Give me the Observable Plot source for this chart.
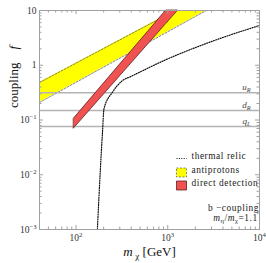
<!DOCTYPE html>
<html><head><meta charset="utf-8">
<script src="https://cdn.jsdelivr.net/npm/d3@7"></script>
<script src="https://cdn.jsdelivr.net/npm/@observablehq/plot@0.6"></script>
<style>body{margin:0;background:#fff}</style>
</head><body><div id="chart"></div>
<script>
// ---- data ----
const yellowM  = [40, 1205, 2630];          // antiprotons band, m_chi [GeV]
const yellowLo = [0.209, 4.86, 10];
const yellowHi = [0.484, 10, 10];
const redM  = [95, 960, 1300];               // direct detection band
const redLo = [0.070, 5.65, 10];
const redHi = [0.106, 10, 10];
const relicM = [171, 184, 194, 202, 250, 322, 397, 912, 3220, 10000]; // thermal relic
const relicF = [0.001, 0.012, 0.057, 0.162, 0.322, 0.526, 0.624, 1.22, 2.83, 5.32];
const quarkF = [0.314, 0.149, 0.076];
const quarkLabels = ["u_{R}", "d_{R}", "q_{L}"];
const xMajor = [100, 1000, 10000];
const xTickLabels = ["10^{2}", "10^{3}", "10^{4}"];
const xMinor = [40,50,60,70,80,90,200,300,400,500,600,700,800,900,2000,3000,4000,5000,6000,7000,8000,9000];
const yMajor = [0.001, 0.01, 0.1, 1, 10];
const yTickLabels = ["10^{−3}", "10^{−2}", "10^{−1}", "1", "10"];
const yMinor = [0.002,0.003,0.004,0.005,0.006,0.007,0.008,0.009,0.02,0.03,0.04,0.05,0.06,0.07,0.08,0.09,
                0.2,0.3,0.4,0.5,0.6,0.7,0.8,0.9,2,3,4,5,6,7,8,9];
const legendLabels = ["thermal relic", "antiprotons", "direct detection"];
const noteLines = ["b −coupling", "%{m}_{η}/%{m}_{χ}=1.1"];
const xTitle = "%{m}\u2009_{χ} [GeV]";
const yTitle = "coupling\u2003%{f}";

// ---- layout ----
const W = 266, H = 263, mL = 39, mR = 7, mT = 10, mB = 34;
const innerW = W - mL - mR, innerH = H - mT - mB;
const YELLOW = "#ffff00", RED = "#f05252", GRID = "#b4b4b4", FRAME = "#a0a0a0";
const FONT = "'Liberation Serif', 'Times New Roman', serif";

const yellow = yellowM.map((m, i) => ({m, lo: yellowLo[i], hi: yellowHi[i]}));
const red = redM.map((m, i) => ({m, lo: redLo[i], hi: redHi[i]}));
const relic = relicM.map((m, i) => ({m, f: relicF[i]}));

const hline = {draw(c) { c.moveTo(-5, 0); c.lineTo(5, 0); }};
const box = {draw(c) { c.rect(-5, -4.5, 10, 9); }};

const note = (s, dx, dy, o = {}) => Plot.text([s], {text: d => d, frameAnchor: "bottom-right", dx, dy,
  textAnchor: "start", fontSize: 9.4, fill: "#222", ...o});

const chart = Plot.plot({
  width: W, height: H, marginLeft: mL, marginRight: mR, marginTop: mT, marginBottom: mB,
  x: {type: "log", domain: [40, 1e4], axis: null},
  y: {type: "log", domain: [1e-3, 10], axis: null},
  style: {fontFamily: FONT, background: "#fff", color: "#222"},
  marks: [
    Plot.areaY(yellow, {x: "m", y1: "lo", y2: "hi", fill: YELLOW}),
    Plot.line(yellow, {x: "m", y: "lo", stroke: "#666", strokeWidth: 0.8, strokeDasharray: "2,1.5"}),
    Plot.line(yellow, {x: "m", y: "hi", stroke: "#666", strokeWidth: 0.8, strokeDasharray: "2,1.5"}),
    Plot.ruleY(quarkF, {stroke: GRID, strokeWidth: 1.4}),
    Plot.areaY(red, {x: "m", y1: "lo", y2: "hi", fill: RED, stroke: "#4a1010", strokeWidth: 0.7}),
    Plot.line(relic, {x: "m", y: "f", curve: "monotone-x", stroke: "#111", strokeWidth: 1.2, strokeDasharray: "1,1.4"}),
    Plot.text(quarkF, {y: d => d, frameAnchor: "right", dx: -9, dy: -5.5, textAnchor: "end",
      text: (d, i) => quarkLabels[i], fontStyle: "italic", fontSize: 9, fill: "#444"}),
    // frame and ticks
    Plot.frame({stroke: FRAME}),
    Plot.tickX(xMajor, {x: d => d, insetTop: innerH - 4, stroke: FRAME}),
    Plot.tickX(xMajor, {x: d => d, insetBottom: innerH - 4, stroke: FRAME}),
    Plot.tickX(xMinor, {x: d => d, insetTop: innerH - 2.5, stroke: FRAME}),
    Plot.tickX(xMinor, {x: d => d, insetBottom: innerH - 2.5, stroke: FRAME}),
    Plot.tickY(yMajor, {y: d => d, insetRight: innerW - 4, stroke: FRAME}),
    Plot.tickY(yMajor, {y: d => d, insetLeft: innerW - 4, stroke: FRAME}),
    Plot.tickY(yMinor, {y: d => d, insetRight: innerW - 2.5, stroke: FRAME}),
    Plot.tickY(yMinor, {y: d => d, insetLeft: innerW - 2.5, stroke: FRAME}),
    // tick labels
    Plot.text(xMajor, {x: d => d, frameAnchor: "bottom", dy: 11, text: (d, i) => xTickLabels[i], fontSize: 9.5, fill: "#333"}),
    Plot.text(yMajor, {y: d => d, frameAnchor: "left", dx: -3, textAnchor: "end", text: (d, i) => yTickLabels[i], fontSize: 9.5, fill: "#333"}),
    // axis titles
    Plot.text([xTitle], {text: d => d, frameAnchor: "bottom", dy: 26, fontSize: 13, fill: "#111"}),
    Plot.text([yTitle], {text: d => d, frameAnchor: "left", dx: -26, dy: -12, rotate: -90, fontSize: 13, fill: "#111"}),
    // legend
    Plot.dot([0], {frameAnchor: "bottom-right", dx: -78, dy: -71, symbol: hline, fill: "none", stroke: "#111", strokeWidth: 1.2, strokeDasharray: "1,1.4"}),
    Plot.dot([0], {frameAnchor: "bottom-right", dx: -78, dy: -57, symbol: box, fill: YELLOW, stroke: "#666", strokeWidth: 0.8, strokeDasharray: "2,1.5"}),
    Plot.dot([0], {frameAnchor: "bottom-right", dx: -78, dy: -44, symbol: box, fill: RED, stroke: "#4a1010", strokeWidth: 0.7}),
    note(legendLabels[0], -68, -71),
    note(legendLabels[1], -68, -57),
    note(legendLabels[2], -68, -44),
    note(noteLines[0], -26, -19, {textAnchor: "middle"}),
    note(noteLines[1], -24, -9, {textAnchor: "middle"})
  ]
});

// rich text: _{sub}, ^{sup}, %{italic}
function richify(svg) {
  d3.select(svg).selectAll("text").each(function () {
    const s = this.textContent;
    if (legendLabels.includes(s) || noteLines.includes(s)) d3.select(this).style("letter-spacing", "0.55px");
    if (!/[_^%]\{/.test(s)) return;
    const el = d3.select(this);
    el.text(null);
    const re = /([_^%])\{([^}]*)\}/g;
    let last = 0, m;
    while ((m = re.exec(s))) {
      if (m.index > last) el.append("tspan").text(s.slice(last, m.index));
      const t = el.append("tspan").text(m[2]);
      if (m[1] === "_") t.attr("font-size", "70%").attr("baseline-shift", "-0.35em");
      else if (m[1] === "^") t.attr("font-size", "70%").attr("baseline-shift", "0.55em");
      else t.attr("font-style", "italic");
      last = re.lastIndex;
    }
    if (last < s.length) el.append("tspan").text(s.slice(last));
  });
}
richify(chart);
document.getElementById("chart").appendChild(chart);
</script>
</body></html>
